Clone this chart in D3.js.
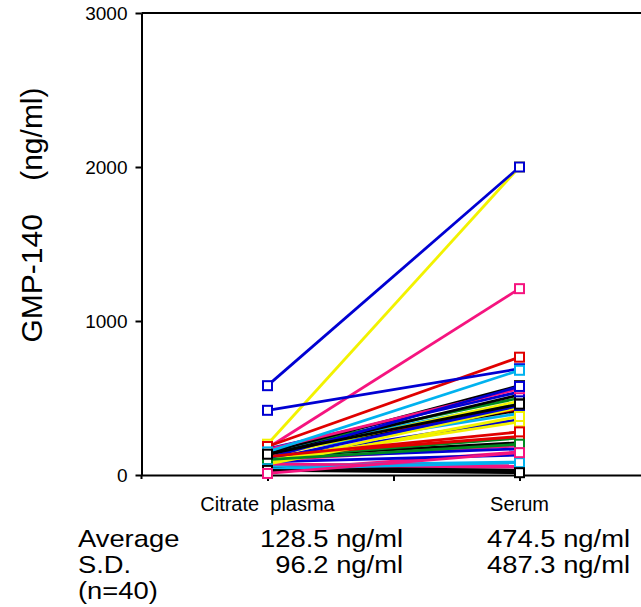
<!DOCTYPE html>
<html>
<head>
<meta charset="UTF-8">
<title>GMP-140</title>
<style>
  body { margin: 0; background: #fff; }
  svg { display: block; font-family: "Liberation Sans", Arial, sans-serif; }
</style>
</head>
<body>
<div id="chart"></div>
<script src="https://cdn.jsdelivr.net/npm/d3@7"></script>
<script>
// groups on the x axis
var groups = ["Citrate  plasma", "Serum"];
// one entry per subject (n=40): colour, citrate plasma value, serum value
var colors = ["black", "pink", "black", "pink", "cyan", "pink", "blue", "pink", "blue", "black",
              "green", "red", "blue", "cyan", "black", "red", "yellow", "blue", "cyan", "yellow",
              "green", "black", "blue", "black", "pink",
              "yellow", "blue", "pink", "red", "blue",
              "cyan", "blue", "yellow", "yellow", "red",
              "green", "cyan", "black", "pink", "black"];
var citrate = [40, 45, 50, 30, 60, 70, 85, 95, 110, 120,
               115, 125, 105, 140, 150, 160, 75, 100, 150, 120,
               160, 130, 170, 145, 165,
               200, 580, 175, 185, 420,
               150, 110, 95, 70, 120,
               100, 40, 30, 10, 135];
var serum = [20, 52, 30, 150, 84, 60, 130, 190, 170, 210,
             240, 250, 360, 400, 420, 430, 440, 450, 470, 480,
             500, 520, 540, 580, 560,
             2000, 2000, 1210, 765, 690,
             680, 575, 345, 380, 280,
             200, 80, 15, 145, 460];
var yTicks = [0, 1000, 2000, 3000];
var stats = [["Average", "128.5 ng/ml", "474.5 ng/ml"],
             ["S.D.", "96.2 ng/ml", "487.3 ng/ml"],
             ["(n=40)", "", ""]];

var palette = {
  blue: "#0000d2", yellow: "#f2f200", pink: "#f5147f", red: "#e00000",
  cyan: "#00b2ef", black: "#000000", green: "#008a20"
};

var width = 641, height = 607;
var svg = d3.select("#chart").append("svg")
  .attr("width", width)
  .attr("height", height);

// x: position 0 is the y axis, groups at 1 and 3, a plain tick at 2
var x = d3.scaleLinear().domain([0, 4]).range([141.5, 645.5]);
var y = d3.scaleLinear().domain([0, 3000]).range([475, 13]);

// top border
svg.append("line")
  .attr("x1", x(0)).attr("x2", width)
  .attr("y1", y(3000)).attr("y2", y(3000))
  .attr("stroke", "#000").attr("stroke-width", 2);

var xAxis = svg.append("g")
  .attr("transform", "translate(0," + y(0) + ")")
  .call(d3.axisBottom(x).tickValues([1, 2, 3]).tickSize(6).tickSizeOuter(0).tickFormat(""));
xAxis.select(".domain").attr("stroke-width", 2);
xAxis.selectAll(".tick line").attr("stroke-width", 2);

var yAxis = svg.append("g")
  .attr("transform", "translate(" + x(0) + ",0)")
  .call(d3.axisLeft(y).tickValues(yTicks).tickFormat(d3.format("d"))
    .tickSize(6).tickSizeOuter(0).tickPadding(8));
yAxis.select(".domain").attr("stroke-width", 2);
yAxis.selectAll(".tick line").attr("stroke-width", 2);
yAxis.selectAll("text")
  .attr("font-size", 19)
  .attr("font-family", "Liberation Sans, Arial, sans-serif")
  .attr("fill", "#000");
// axis line runs a little below the baseline
svg.append("line")
  .attr("x1", x(0)).attr("x2", x(0))
  .attr("y1", y(0)).attr("y2", y(0) + 4)
  .attr("stroke", "#000").attr("stroke-width", 2);

// group labels
svg.selectAll(".glabel")
  .data(groups)
  .enter().append("text")
  .attr("class", "glabel")
  .attr("x", function(d, i) { return x(1 + i * 2); })
  .attr("y", 511)
  .attr("text-anchor", "middle")
  .attr("font-size", 20)
  .style("white-space", "pre")
  .text(function(d) { return d; });

// y title
svg.append("text")
  .attr("transform", "translate(42,215) rotate(-90)")
  .attr("text-anchor", "middle")
  .attr("font-size", 30)
  .style("white-space", "pre")
  .text("GMP-140    (ng/ml)");

// paired lines
var pairs = colors.map(function(c, i) {
  return { color: palette[c], a: citrate[i], b: serum[i] };
});

svg.append("g").selectAll("line")
  .data(pairs)
  .enter().append("line")
  .attr("x1", x(1)).attr("x2", x(3))
  .attr("y1", function(d) { return y(d.a); })
  .attr("y2", function(d) { return y(d.b); })
  .attr("stroke", function(d) { return d.color; })
  .attr("stroke-width", 2.8);

// open square markers, later ones end up on top
var sq = 9;
var marks = svg.append("g");
pairs.forEach(function(d) {
  [[1, d.a], [3, d.b]].forEach(function(p) {
    marks.append("rect")
      .attr("x", x(p[0]) - sq / 2)
      .attr("y", y(p[1]) - sq / 2)
      .attr("width", sq)
      .attr("height", sq)
      .attr("fill", "#fff")
      .attr("stroke", d.color)
      .attr("stroke-width", 2);
  });
});

// summary table under the chart (font is a bit wide, so stretch it)
var rowY = [547, 573, 599];
var colX = [78, 403, 630];
var sx = 1.14;
stats.forEach(function(row, r) {
  row.forEach(function(t, c) {
    if (!t) return;
    svg.append("text")
      .attr("transform", "translate(" + colX[c] + "," + rowY[r] + ") scale(" + sx + ",1)")
      .attr("text-anchor", c === 0 ? "start" : "end")
      .attr("font-size", 24)
      .text(t);
  });
});
</script>
</body>
</html>
